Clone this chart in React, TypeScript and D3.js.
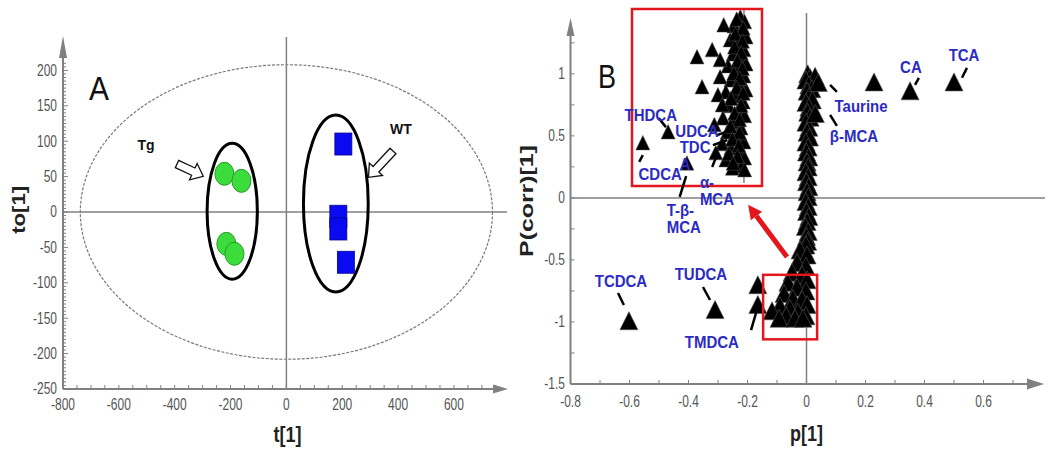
import React from 'react';
import * as d3 from 'd3';

// ================= Panel A : OPLS-DA score plot =================
const tgScores: [number, number][] = [[-222, 54], [-161, 44], [-215, -45], [-186, -59]];
const wtScores: [number, number][] = [[204, 96], [186, -6], [186, -24], [213, -71]];
const hotellingRadii: [number, number] = [738, 208];
const tgGroupEllipse: [number, number, number, number] = [-194, 1, 90, 96]; // cx, cy, rx, ry
const wtGroupEllipse: [number, number, number, number] = [177, 12, 116, 125];
const aXTicks = [-800, -600, -400, -200, 0, 200, 400, 600];
const aYTicks = [200, 150, 100, 50, 0, -50, -100, -150, -200, -250];

// ================= Panel B : S-plot =================
const bXTicks = [-0.8, -0.6, -0.4, -0.2, 0, 0.2, 0.4, 0.6];
const bYTicks = [1, 0.5, 0, -0.5, -1, -1.5];
const bYTickLabels = ['1', '0.5', '0', '-0.5', '-1', '-1.5'];

const namedLoadings = [
  { name: 'TCA', p: 0.5, pc: 0.935 },
  { name: 'CA', p: 0.351, pc: 0.863 },
  { name: 'Taurine', p: 0.04, pc: 0.93 },
  { name: 'β-MCA', p: 0.03, pc: 0.68 },
  { name: 'TCDCA', p: -0.602, pc: -0.99 },
  { name: 'TUDCA', p: -0.31, pc: -0.9 },
  { name: 'TMDCA', p: -0.165, pc: -0.86 },
];
const scatteredLoadings: [number, number][] = [[0.229, 0.935], [-0.165, -0.70]];
const upperColumn: [number, number][] = [
  [0.004, 1.0], [0.012, 0.97], [0.029, 0.98], [-0.002, 0.95], [0.008, 0.91], [0.018, 0.88],
  [0.002, 0.86], [0.01, 0.82], [0.02, 0.79], [-0.002, 0.77], [0.008, 0.73], [0.004, 0.69],
  [0.012, 0.65], [-0.002, 0.61], [0.008, 0.57], [0.002, 0.53], [0.01, 0.49], [-0.002, 0.45],
  [0.006, 0.41], [0.0, 0.37], [0.008, 0.33], [0.002, 0.29], [0.006, 0.25], [-0.002, 0.21],
  [0.006, 0.17], [0.0, 0.13], [0.008, 0.09], [0.002, 0.05], [0.006, 0.01], [-0.002, -0.03],
  [0.006, -0.07], [0.0, -0.11], [0.008, -0.15], [0.002, -0.19], [-0.004, -0.23], [0.006, -0.27],
  [0.0, -0.31], [0.004, -0.35],
];
const lowerCone: [number, number][] = [
  [-0.002, -0.38], [-0.022, -0.42], [0.002, -0.46], [-0.032, -0.52], [-0.002, -0.55],
  [-0.049, -0.6], [-0.015, -0.62], [0.002, -0.66], [-0.063, -0.68], [-0.032, -0.72],
  [-0.002, -0.75], [-0.076, -0.77], [-0.046, -0.81], [-0.015, -0.82], [-0.09, -0.87],
  [-0.117, -0.91], [-0.056, -0.89], [0.002, -0.86], [-0.029, -0.92], [-0.069, -0.95],
  [-0.002, -0.95], [-0.093, -0.97], [-0.039, -0.97], [-0.012, -0.97],
];

// zoomed inset (magnified view of the small boxed region)
const insetDomainP: [number, number] = [-0.155, 0.025];
const insetDomainPc: [number, number] = [-0.6, -1.15];
const insetColumn: [number, number][] = [
  [-0.005, -0.625], [0.001, -0.64], [-0.014, -0.653], [-0.003, -0.668], [0.003, -0.687],
  [-0.019, -0.696], [-0.008, -0.709], [0.0, -0.727], [-0.015, -0.74], [-0.004, -0.752],
  [0.003, -0.771], [-0.022, -0.777], [-0.01, -0.79], [0.0, -0.808], [-0.018, -0.821],
  [-0.005, -0.833], [0.003, -0.852], [-0.025, -0.858], [-0.012, -0.87], [-0.001, -0.889],
  [-0.021, -0.901], [-0.008, -0.914], [0.001, -0.932], [-0.029, -0.939], [-0.015, -0.951],
  [-0.004, -0.97], [-0.023, -0.982], [-0.011, -0.995], [0.0, -1.013], [-0.03, -1.019],
  [-0.018, -1.032], [-0.005, -1.044], [0.001, -1.063], [-0.025, -1.069], [-0.012, -1.082],
  [-0.003, -1.088],
  [-0.01, -0.632], [-0.001, -0.66], [-0.012, -0.678], [-0.002, -0.7], [-0.013, -0.718],
  [-0.004, -0.736], [-0.009, -0.762], [-0.002, -0.785], [-0.014, -0.8], [-0.006, -0.816],
  [-0.01, -0.845], [-0.001, -0.862], [-0.018, -0.878], [-0.004, -0.9], [-0.013, -0.925],
  [-0.006, -0.944], [-0.019, -0.965], [-0.006, -0.985], [-0.016, -1.005], [-0.007, -1.025],
  [-0.021, -1.05], [-0.009, -1.058], [-0.016, -1.095], [0.001, -1.1],
];
const insetScattered: [number, number][] = [
  [-0.065, -0.749], [-0.058, -0.842], [-0.044, -0.727], [-0.033, -0.758], [-0.028, -0.65],
  [-0.015, -1.079], [-0.036, -0.867], [-0.041, -0.96], [-0.03, -0.898], [-0.033, -0.811],
];
const insetNamed = [
  { name: 'THDCA', p: -0.105, pc: -0.982 },
  { name: 'CDCA', p: -0.14, pc: -1.016 },
  { name: 'T-β-MCA', p: -0.079, pc: -1.079 },
  { name: 'α-MCA', p: -0.039, pc: -1.047 },
];
const zoomedRegion = { p: [-0.147, 0.036], pc: [-0.62, -1.14] };

// annotation layout (label anchor and leader in data units)
const mainAnnotations = [
  { lines: ['TCDCA'], at: [-0.629, -0.669], leader: [[-0.639, -0.766], [-0.619, -0.863]] },
  { lines: ['TUDCA'], at: [-0.358, -0.613], leader: [[-0.351, -0.718], [-0.327, -0.823]] },
  { lines: ['TMDCA'], at: [-0.321, -1.161], leader: [[-0.188, -1.065], [-0.171, -0.927]] },
  { lines: ['Taurine'], at: [0.185, 0.742], leader: [[0.08, 0.911], [0.103, 0.855]] },
  { lines: ['β-MCA'], at: [0.161, 0.5], leader: [[0.08, 0.669], [0.103, 0.581]] },
  { lines: ['CA'], at: [0.354, 1.056], leader: [[0.368, 0.911], [0.381, 0.968]] },
  { lines: ['TCA'], at: [0.534, 1.153], leader: [[0.527, 0.968], [0.544, 1.048]] },
];
const insetAnnotations = [
  { lines: ['THDCA'], at: [-0.129, -0.929], anchor: 'middle', leader: [[-0.118, -0.939], [-0.108, -0.967]] },
  { lines: ['UDCA'], at: [-0.065, -0.979], anchor: 'middle', leader: [[-0.037, -0.992], [-0.025, -0.982]] },
  { lines: ['TDC', 'A'], at: [-0.089, -1.03], anchor: 'start', leader: [[-0.043, -1.023], [-0.023, -1.007]] },
  { lines: ['CDCA'], at: [-0.116, -1.113], anchor: 'middle', leader: [[-0.145, -1.075], [-0.14, -1.054]] },
  { lines: ['α-', 'MCA'], at: [-0.061, -1.138], anchor: 'start', leader: [[-0.044, -1.091], [-0.039, -1.063]] },
  { lines: ['T-β-', 'MCA'], at: [-0.107, -1.225], anchor: 'start', leader: [[-0.089, -1.184], [-0.08, -1.119]] },
];
const redArrow = { from: [-0.066, -0.476], to: [-0.198, -0.056] };

const AX = '#808080';
const LBL = '#2b2bc4';
const RED = '#e3161e';
const FONT = '"Liberation Sans", Arial, sans-serif';

const triMain = 'M0,-9L9,9L-9,9Z';
const triInset = 'M0,-7.5L7,7L-7,7Z';

function blockArrow(len: number) {
  return `M0,-4H${len - 11}V-9L${len},0L${len - 11},9V4H0Z`;
}

function TickLabel({ x, y, anchor, children }: any) {
  return (
    <text transform={`translate(${x},${y}) scale(1,1.3)`} textAnchor={anchor} dy="0.35em"
      fontSize={12} fill="#555" fontFamily={FONT}>{children}</text>
  );
}

function Label({ x, y, anchor, children }: any) {
  return (
    <text transform={`translate(${x},${y}) scale(1,1.12)`} dy="0.35em" textAnchor={anchor}
      fontSize={15} fontWeight="bold" fill={LBL}>{children}</text>
  );
}

export default function App() {
  // Panel A scales
  const xA = d3.scaleLinear().domain([-800, 790]).range([63, 507]);
  const yA = d3.scaleLinear().domain([-250, 250]).range([389, 35]);
  // Panel B scales
  const xB = d3.scaleLinear().domain([-0.8, 0.8]).range([570.5, 1042.5]);
  const yB = d3.scaleLinear().domain([-1.5, 1.45]).range([384, 18]);
  const inset = { x0: 632, x1: 762, y0: 9, y1: 186 };
  const xI = d3.scaleLinear().domain(insetDomainP).range([inset.x0, inset.x1]);
  const yI = d3.scaleLinear().domain(insetDomainPc).range([inset.y0, inset.y1]);

  const aYMinor = d3.range(-250, 215, 5);
  const aXMinor = d3.range(-800, 751, 50);
  const bXMinor = d3.range(-8, 8).map((d) => d / 10);
  const bYMinor = d3.range(-6, 6).map((d) => d * 0.25);

  // red arrow geometry
  const ax0 = xB(redArrow.from[0]), ay0 = yB(redArrow.from[1]);
  const ax1 = xB(redArrow.to[0]), ay1 = yB(redArrow.to[1]);
  const alen = Math.hypot(ax1 - ax0, ay1 - ay0);
  const ux = (ax1 - ax0) / alen, uy = (ay1 - ay0) / alen;
  const hb = [ax1 - ux * 14, ay1 - uy * 14];
  const head = `M${ax1},${ay1}L${hb[0] - uy * 7},${hb[1] + ux * 7}L${hb[0] + uy * 7},${hb[1] - ux * 7}Z`;

  return (
    <svg width={1050} height={453} style={{ position: 'absolute', left: 0, top: 0, background: '#fff' }}
      fontFamily={FONT}>
      <rect width={1050} height={453} fill="#fff" />
      {/* ================= Panel A ================= */}
      <g>
        <ellipse cx={xA(0)} cy={yA(0)} rx={xA(hotellingRadii[0]) - xA(0)} ry={yA(0) - yA(hotellingRadii[1])}
          fill="none" stroke="#7a7a7a" strokeWidth={1.2} strokeDasharray="3,1.5" />
        <line x1={xA(0)} x2={xA(0)} y1={37} y2={yA(-250)} stroke={AX} strokeWidth={1.5} />
        <line x1={xA(-800)} x2={507} y1={yA(0)} y2={yA(0)} stroke={AX} strokeWidth={1.5} />
        <line x1={xA(-800)} x2={xA(-800)} y1={yA(-250)} y2={50} stroke={AX} strokeWidth={2} />
        <path d={`M${xA(-800)},36L${xA(-800) + 4},58L${xA(-800) - 4},58Z`} fill={AX} />
        <line x1={xA(-800)} x2={496} y1={yA(-250)} y2={yA(-250)} stroke={AX} strokeWidth={2} />
        <path d={`M508,${yA(-250)}L493,${yA(-250) - 4.5}L493,${yA(-250) + 4.5}Z`} fill={AX} />
        {aYMinor.map((v) => (
          <line key={'ay' + v} x1={xA(-800)} x2={xA(-800) + (v % 50 === 0 ? 5 : 3)} y1={yA(v)} y2={yA(v)}
            stroke={AX} strokeWidth={1} />
        ))}
        {aXMinor.map((v) => (
          <line key={'ax' + v} x1={xA(v)} x2={xA(v)} y1={yA(-250)} y2={yA(-250) - 4} stroke={AX} strokeWidth={1} />
        ))}
        {aYTicks.map((v) => (
          <TickLabel key={'ayl' + v} x={57} y={yA(v)} anchor="end">{v}</TickLabel>
        ))}
        {aXTicks.map((v) => (
          <TickLabel key={'axl' + v} x={xA(v)} y={405} anchor="middle">{v}</TickLabel>
        ))}
        <text transform={`translate(19,${yA(3)}) rotate(-90) scale(1.23,1)`} textAnchor="middle" dy="0.35em"
          fontSize={18} fontWeight="bold" fill="#222">to[1]</text>
        <text transform={`translate(${xA(0) + 1},434) scale(1,1.2)`} textAnchor="middle" dy="0.35em"
          fontSize={18} fontWeight="bold" fill="#222">t[1]</text>
        <text transform="translate(89,100) scale(1,1.08)" fontSize={30} fill="#111">A</text>

        {[tgGroupEllipse, wtGroupEllipse].map((e, i) => (
          <ellipse key={'ge' + i} cx={xA(e[0])} cy={yA(e[1])} rx={xA(e[2]) - xA(0)} ry={yA(0) - yA(e[3])}
            fill="none" stroke="#000" strokeWidth={3} />
        ))}
        {tgScores.map((d, i) => (
          <ellipse key={'tg' + i} cx={xA(d[0])} cy={yA(d[1])} rx={9.5} ry={11.5}
            fill="#3ddc3d" stroke="#249a24" strokeWidth={1} />
        ))}
        {wtScores.map((d, i) => (
          <rect key={'wt' + i} x={xA(d[0]) - 8.5} y={yA(d[1]) - 11} width={17} height={22}
            fill="#0a0af0" stroke="#05058a" strokeWidth={0.8} />
        ))}
        <text x={146} y={145} textAnchor="middle" dy="0.35em" fontSize={14} fontWeight="bold" fill="#111">Tg</text>
        <text x={401} y={129} textAnchor="middle" dy="0.35em" fontSize={14} fontWeight="bold" fill="#111">WT</text>
        <path d={blockArrow(29)} transform="translate(177,164) rotate(25)" fill="#fff" stroke="#111" strokeWidth={1.3} />
        <path d={blockArrow(36)} transform="translate(393,151) rotate(133)" fill="#fff" stroke="#111" strokeWidth={1.3} />
      </g>

      {/* ================= Panel B ================= */}
      <g>
        <line x1={xB(0)} x2={xB(0)} y1={13} y2={yB(-1.5)} stroke={AX} strokeWidth={1.5} />
        <line x1={xB(-0.8)} x2={1045} y1={yB(0)} y2={yB(0)} stroke={AX} strokeWidth={1.5} />
        <line x1={xB(-0.8)} x2={xB(-0.8)} y1={yB(-1.5)} y2={32} stroke={AX} strokeWidth={2} />
        <path d={`M${xB(-0.8)},18L${xB(-0.8) + 4},36L${xB(-0.8) - 4},36Z`} fill={AX} />
        <line x1={xB(-0.8)} x2={1030} y1={yB(-1.5)} y2={yB(-1.5)} stroke={AX} strokeWidth={2} />
        <path d={`M1044,${yB(-1.5)}L1027,${yB(-1.5) - 5.5}L1027,${yB(-1.5) + 5.5}Z`} fill={AX} />
        {bYMinor.map((v) => (
          <line key={'by' + v} x1={xB(-0.8)} x2={xB(-0.8) + 4} y1={yB(v)} y2={yB(v)} stroke={AX} strokeWidth={1} />
        ))}
        {bXMinor.map((v) => (
          <line key={'bx' + v} x1={xB(v)} x2={xB(v)} y1={yB(-1.5)} y2={yB(-1.5) - 4} stroke={AX} strokeWidth={1} />
        ))}
        {bYTicks.map((v, i) => (
          <TickLabel key={'byl' + v} x={565} y={yB(v)} anchor="end">{bYTickLabels[i]}</TickLabel>
        ))}
        {bXTicks.map((v) => (
          <TickLabel key={'bxl' + v} x={xB(v)} y={402} anchor="middle">{String(v)}</TickLabel>
        ))}
        <text transform={`translate(527,201) rotate(-90) scale(1.38,1)`} textAnchor="middle" dy="0.35em"
          fontSize={18} fontWeight="bold" fill="#222">P(corr)[1]</text>
        <text transform={`translate(${xB(0)},433) scale(1,1.2)`} textAnchor="middle" dy="0.35em"
          fontSize={18} fontWeight="bold" fill="#222">p[1]</text>
        <text transform="translate(598,88) scale(1,1.2)" fontSize={27} fill="#111">B</text>

        {[...upperColumn, ...lowerCone, ...scatteredLoadings].map((d, i) => (
          <path key={'c' + i} d={triMain} transform={`translate(${xB(d[0])},${yB(d[1])})`}
            fill="#000" stroke="#555" strokeWidth={0.6} />
        ))}
        {namedLoadings.map((d) => (
          <path key={'n' + d.name} d={triMain} transform={`translate(${xB(d.p)},${yB(d.pc)})`}
            fill="#000" stroke="#555" strokeWidth={0.6} />
        ))}
        {mainAnnotations.map((a, i) => (
          <g key={'ma' + i}>
            <line x1={xB(a.leader[0][0])} y1={yB(a.leader[0][1])} x2={xB(a.leader[1][0])} y2={yB(a.leader[1][1])}
              stroke="#000" strokeWidth={2.5} />
            <Label x={xB(a.at[0])} y={yB(a.at[1])} anchor="middle">{a.lines[0]}</Label>
          </g>
        ))}

        <rect x={xB(zoomedRegion.p[0])} y={yB(zoomedRegion.pc[0])}
          width={xB(zoomedRegion.p[1]) - xB(zoomedRegion.p[0])} height={yB(zoomedRegion.pc[1]) - yB(zoomedRegion.pc[0])}
          fill="none" stroke={RED} strokeWidth={2.5} />
        <line x1={ax0} y1={ay0} x2={hb[0]} y2={hb[1]} stroke={RED} strokeWidth={5} />
        <path d={head} fill={RED} />

        <defs>
          <clipPath id="insetClip">
            <rect x={inset.x0} y={inset.y0} width={inset.x1 - inset.x0} height={inset.y1 - inset.y0} />
          </clipPath>
        </defs>
        <g clipPath="url(#insetClip)">
          <line x1={xI(0)} x2={xI(0)} y1={inset.y0} y2={inset.y1 - 3} stroke={AX} strokeWidth={1.5} />
          {[...insetColumn, ...insetScattered].map((d, i) => (
            <path key={'ic' + i} d={triInset} transform={`translate(${xI(d[0])},${yI(d[1])})`}
              fill="#000" stroke="#555" strokeWidth={0.5} />
          ))}
          {insetNamed.map((d) => (
            <path key={'in' + d.name} d={triInset} transform={`translate(${xI(d.p)},${yI(d.pc)})`}
              fill="#000" stroke="#555" strokeWidth={0.5} />
          ))}
        </g>
        <rect x={inset.x0} y={inset.y0} width={inset.x1 - inset.x0} height={inset.y1 - inset.y0}
          fill="none" stroke={RED} strokeWidth={2.5} />
        {insetAnnotations.map((a, i) => (
          <g key={'ia' + i}>
            <line x1={xI(a.leader[0][0])} y1={yI(a.leader[0][1])} x2={xI(a.leader[1][0])} y2={yI(a.leader[1][1])}
              stroke="#000" strokeWidth={2.5} />
            {a.lines.map((t, j) => (
              <Label key={j} x={xI(a.at[0])} y={yI(a.at[1]) + j * 17} anchor={a.anchor}>{t}</Label>
            ))}
          </g>
        ))}
      </g>
    </svg>
  );
}
